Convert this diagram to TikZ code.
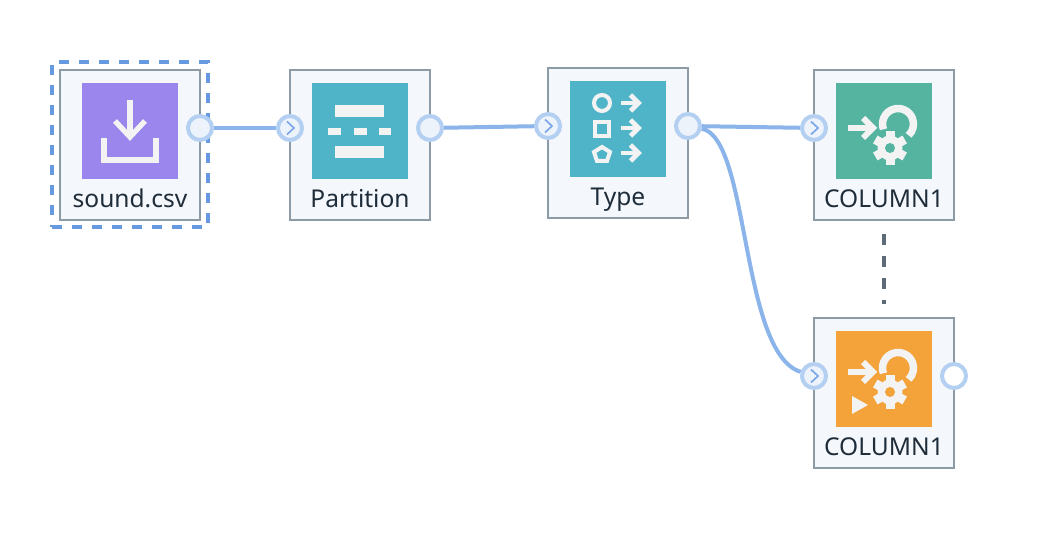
\documentclass[tikz,border=0pt]{standalone}
\usepackage{fontspec}
\setmainfont{Noto Sans}
\definecolor{boxline}{HTML}{8D9BA7}
\definecolor{boxfill}{HTML}{F4F7FC}
\definecolor{portline}{HTML}{B3CFF1}
\definecolor{portfill}{HTML}{EDF3FB}
\definecolor{linkline}{HTML}{8AB4EA}
\definecolor{chevline}{HTML}{7AA5E6}
\definecolor{selectline}{HTML}{6699E0}
\definecolor{glyph}{HTML}{F3F3F3}
\definecolor{labeltext}{HTML}{1F2D3A}
\definecolor{dashline}{HTML}{5D6B78}
\definecolor{purpleicon}{HTML}{9A86EC}
\definecolor{tealicon}{HTML}{4FB4C8}
\definecolor{greenicon}{HTML}{54B4A0}
\definecolor{orangeicon}{HTML}{F4A23A}
\tikzset{
  opbox/.style={draw=boxline, fill=boxfill, line width=1.5pt, minimum width=105pt, minimum height=112pt, inner sep=0pt, outer sep=0pt},
  opicon/.style={minimum size=72pt, inner sep=0pt},
  oplabel/.style={anchor=base, inner sep=0pt, text=labeltext, font=\fontsize{18.4}{22}\selectfont},
  port/.style={circle, draw=portline, fill=portfill, line width=3pt, minimum size=18pt, inner sep=0pt},
  link/.style={draw=linkline, line width=3pt},
  chev/.style={draw=chevline, line width=1.2pt},
  glyphline/.style={draw=glyph, line width=3pt},
  arrowline/.style={draw=glyph, line width=3.6pt},
}
% gear, ring and arrow shared by both COLUMN1 icons
\newcommand\gearmark[1]{
  \draw[glyph, line width=4.5pt] (-36,3) -- (-11,3);
  \draw[glyph, line width=4.5pt] (-21,13) -- (-11,3) -- (-21,-7);
  \draw[glyph, line width=5.6pt] (14,7) ++(200:15.5) arc[start angle=200, end angle=-47, radius=15.5];
  \fill[#1] (6,-17) circle (18.5);
  \fill[glyph] (6,-17) circle (12.5);
  \foreach \a in {30,90,...,330}
    \fill[glyph, shift={(6,-17)}, rotate=\a] (0,-4.5) rectangle (17,4.5);
  \fill[#1] (6,-17) circle (5);
}
\begin{document}
\begin{tikzpicture}[x=0.75pt, y=0.75pt]
  \useasboundingbox (0,0) rectangle (1042,538);
  \node[draw=selectline, line width=3.4pt, dash pattern=on 7.5pt off 7.5pt, minimum width=117pt, minimum height=123.5pt, inner sep=0pt] (select) at (130,393.5) {};
  % boxes, icons and labels
  \foreach \n/\x/\y/\c/\t in {sound/130/393/purpleicon/sound.csv, partition/360/393/tealicon/Partition, type/618/395/tealicon/Type, colone/884/393/greenicon/COLUMN1, coltwo/884/145/orangeicon/COLUMN1} {
    \node[opbox] (\n) at (\x,\y) {};
    \node[opicon, fill=\c] (\n-icon) at (\x,\y+14) {};
    \node[oplabel] (\n-label) at (\x,\y-63) {\t};
  }
  % ports
  \node[port] (soundout) at ([shift={(0,17)}]sound.east) {};
  \node[port] (partitionin) at ([shift={(0,17)}]partition.west) {};
  \node[port] (partitionout) at ([shift={(0,17)}]partition.east) {};
  \node[port] (typein) at ([shift={(0,17)}]type.west) {};
  \node[port] (typeout) at ([shift={(0,17)}]type.east) {};
  \node[port] (colonein) at ([shift={(0,17)}]colone.west) {};
  \node[port] (coltwoin) at ([shift={(0,17)}]coltwo.west) {};
  \node[port, fill=white] (coltwoout) at ([shift={(0,17)}]coltwo.east) {};
  \foreach \p in {partitionin, typein, colonein, coltwoin}
    \draw[chev] ([shift={(-3,6.5)}]\p.center) -- ++(7,-6.5) -- ++(-7,-6.5);
  % connectors
  \draw[link] (soundout) -- (partitionin);
  \draw[link] (partitionout) -- (typein);
  \draw[link] (typeout) -- (colonein);
  \draw[link] (typeout) .. controls (750,400) and (740,185) .. (coltwoin);
  \draw[draw=dashline, line width=3pt, dash pattern=on 8.25pt off 8.25pt, shorten >=10.5pt, shorten <=10.5pt] (colone) -- (coltwo);
  % sound.csv icon
  \begin{scope}[shift={(sound-icon.center)}]
    \draw[glyph, line width=4pt] (0,31) -- (0,-6);
    \draw[glyph, line width=4pt] (-15,10) -- (0,-6) -- (15,10);
    \draw[glyph, line width=4pt] (-26,-7) -- (-26,-29) -- (26,-29) -- (26,-7);
  \end{scope}
  % Partition icon
  \begin{scope}[shift={(partition-icon.center)}]
    \fill[glyph] (-25,26) rectangle (24,14);
    \foreach \a/\b in {-32/-19, -6/7, 19/31}
      \fill[glyph] (\a,3) rectangle (\b,-4);
    \fill[glyph] (-25,-15) rectangle (24,-27);
  \end{scope}
  % Type icon
  \begin{scope}[shift={(type-icon.center)}]
    \draw[glyphline] (-16,26) circle (8);
    \draw[glyphline] (-23,-7) rectangle (-9,7);
    \draw[glyphline] (-16,-18) -- (-24,-23) -- (-21,-32) -- (-11,-32) -- (-8,-23) -- cycle;
    \foreach \y in {26,1,-24} {
      \draw[arrowline] (3,\y) -- (20,\y);
      \draw[arrowline] (12.5,\y+8) -- (20.5,\y) -- (12.5,\y-8);
    }
  \end{scope}
  % COLUMN1 icons
  \begin{scope}[shift={(colone-icon.center)}]
    \gearmark{greenicon}
  \end{scope}
  \begin{scope}[shift={(coltwo-icon.center)}]
    \begin{scope}[yshift=3pt]
      \gearmark{orangeicon}
    \end{scope}
    \fill[glyph] (-32,-17) -- (-16,-26) -- (-32,-35) -- cycle;
  \end{scope}
\end{tikzpicture}
\end{document}
